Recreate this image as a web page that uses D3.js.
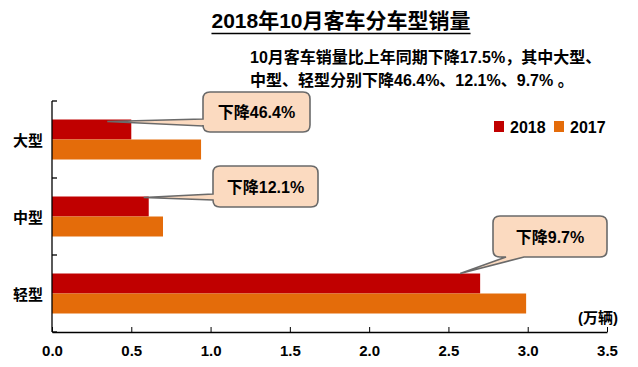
<!DOCTYPE html>
<html>
<head>
<meta charset="utf-8">
<script src="https://cdn.jsdelivr.net/npm/d3@7"></script>
<style>
  body { margin: 0; background: #fff; }
  text { font-family: "Liberation Sans", Arial, "Noto Sans CJK SC", sans-serif; font-weight: bold; }
</style>
</head>
<body>
<script>
// data (unit: 万辆)
var categories = ["大型", "中型", "轻型"];
var series = ["2018", "2017"];
var values2018 = [0.50, 0.61, 2.70];
var values2017 = [0.94, 0.70, 2.99];
var xTicks = [0, 0.5, 1.0, 1.5, 2.0, 2.5, 3.0, 3.5];
var calloutTexts = ["下降46.4%", "下降12.1%", "下降9.7%"];
var titleText = "2018年10月客车分车型销量";
var noteLines = ["10月客车销量比上年同期下降17.5%，其中大型、", "中型、轻型分别下降46.4%、12.1%、9.7% 。"];

var W = 638, H = 367;
var colors = { "2018": "#C00000", "2017": "#E46C0A" };

var svg = d3.select("body").append("svg").attr("width", W).attr("height", H);

var x = d3.scaleLinear().domain([0, 3.5]).range([52, 607]);
var y = d3.scaleBand().domain(categories).range([101, 332]);
var ySub = d3.scaleBand().domain(series).range([18.5, 58.5]);

// title
var title = svg.append("text").attr("x", 341).attr("y", 28).attr("text-anchor", "middle")
	.attr("font-size", 21).attr("fill", "#000").text(titleText);
var tb = title.node().getBBox();
svg.append("line").attr("x1", tb.x).attr("x2", tb.x + tb.width).attr("y1", 33.5).attr("y2", 33.5)
	.attr("stroke", "#000").attr("stroke-width", 1.5);

// note
noteLines.forEach(function(t, i){
	svg.append("text").attr("x", 250).attr("y", 63 + i * 23).attr("font-size", 16).attr("fill", "#000").text(t);
});

// bars
var rows = categories.map(function(c, i){ return { cat: c, v: { "2018": values2018[i], "2017": values2017[i] } }; });
var g = svg.append("g");
rows.forEach(function(r){
	series.forEach(function(s){
		g.append("rect")
			.attr("x", x(0))
			.attr("y", y(r.cat) + ySub(s))
			.attr("width", x(r.v[s]) - x(0))
			.attr("height", ySub.bandwidth())
			.attr("fill", colors[s]);
	});
});

// x axis, ticks pointing up
var xAxis = d3.axisBottom(x).tickValues(xTicks).tickSizeInner(-5).tickSizeOuter(0).tickPadding(13)
	.tickFormat(d3.format(".1f"));
var gx = svg.append("g").attr("transform", "translate(0," + y.range()[1] + ")").call(xAxis);
gx.select(".domain").attr("stroke", "#000").attr("stroke-width", 1.3);
gx.selectAll(".tick line").attr("stroke", "#000");
gx.selectAll(".tick text").attr("font-size", 15).attr("fill", "#000")
	.style("font-family", "'Liberation Sans', Arial, sans-serif").style("font-weight", "bold");

// y axis line with boundary ticks pointing right
svg.append("line").attr("x1", x(0)).attr("x2", x(0)).attr("y1", y.range()[0]).attr("y2", y.range()[1])
	.attr("stroke", "#000").attr("stroke-width", 1.3);
var bounds = categories.map(function(c){ return y(c); }).concat([y.range()[1]]);
svg.selectAll(".ytick").data(bounds).enter().append("line")
	.attr("x1", x(0)).attr("x2", x(0) + 5).attr("y1", function(d){ return d; }).attr("y2", function(d){ return d; })
	.attr("stroke", "#000").attr("stroke-width", 1.3);
svg.selectAll(".ylab").data(categories).enter().append("text")
	.attr("x", 28).attr("y", function(d){ return y(d) + y.bandwidth() / 2 + 6; })
	.attr("text-anchor", "middle").attr("font-size", 15).attr("fill", "#000").text(function(d){ return d; });

// unit
svg.append("text").attr("x", 598).attr("y", 323).attr("text-anchor", "middle").attr("font-size", 15)
	.attr("fill", "#000").text("(万辆)");

// legend
var leg = svg.append("g").attr("transform", "translate(494,121)");
series.forEach(function(s, i){
	var lg = leg.append("g").attr("transform", "translate(" + (i * 60) + ",0)");
	lg.append("rect").attr("width", 10).attr("height", 11).attr("fill", colors[s]);
	lg.append("text").attr("x", 16).attr("y", 11.5).attr("font-size", 16).attr("fill", "#000").text(s);
});

// callouts
function calloutPath(b, side, a1, a2, tip, r){
	var x0 = b.x0, y0 = b.y0, x1 = b.x1, y1 = b.y1;
	var p = d3.path();
	p.moveTo(x0 + r, y0);
	p.lineTo(x1 - r, y0);
	p.quadraticCurveTo(x1, y0, x1, y0 + r);
	p.lineTo(x1, y1 - r);
	p.quadraticCurveTo(x1, y1, x1 - r, y1);
	if(side === "bottom"){
		p.lineTo(a2, y1); p.lineTo(tip[0], tip[1]); p.lineTo(a1, y1);
	}
	p.lineTo(x0 + r, y1);
	p.quadraticCurveTo(x0, y1, x0, y1 - r);
	if(side === "left"){
		p.lineTo(x0, a2); p.lineTo(tip[0], tip[1]); p.lineTo(x0, a1);
	}
	p.lineTo(x0, y0 + r);
	p.quadraticCurveTo(x0, y0, x0 + r, y0);
	p.closePath();
	return p.toString();
}

// box layout (pixels) and pointer offsets from the 2018 bar end
var calloutLayout = [
	{ box: { x0: 203, y0: 92, x1: 310, y1: 132 }, side: "left", a1: 119, a2: 126, dx: -24, dy: 2 },
	{ box: { x0: 213, y0: 166, x1: 318, y1: 207 }, side: "left", a1: 194, a2: 200, dx: -5, dy: 1 },
	{ box: { x0: 493, y0: 216, x1: 607, y1: 257 }, side: "bottom", a1: 506, a2: 524, dx: -20, dy: 0 }
];
calloutLayout.forEach(function(c, i){
	var cat = categories[i];
	var tip = [x(values2018[i]) + c.dx, y(cat) + ySub("2018") + c.dy];
	svg.append("path").attr("d", calloutPath(c.box, c.side, c.a1, c.a2, tip, 7))
		.attr("fill", "#FBDAC0").attr("stroke", "#6A6A6A").attr("stroke-width", 1.6);
	svg.append("text").attr("x", (c.box.x0 + c.box.x1) / 2).attr("y", (c.box.y0 + c.box.y1) / 2 + 6)
		.attr("text-anchor", "middle").attr("font-size", 16).attr("fill", "#000").text(calloutTexts[i]);
});
</script>
</body>
</html>
